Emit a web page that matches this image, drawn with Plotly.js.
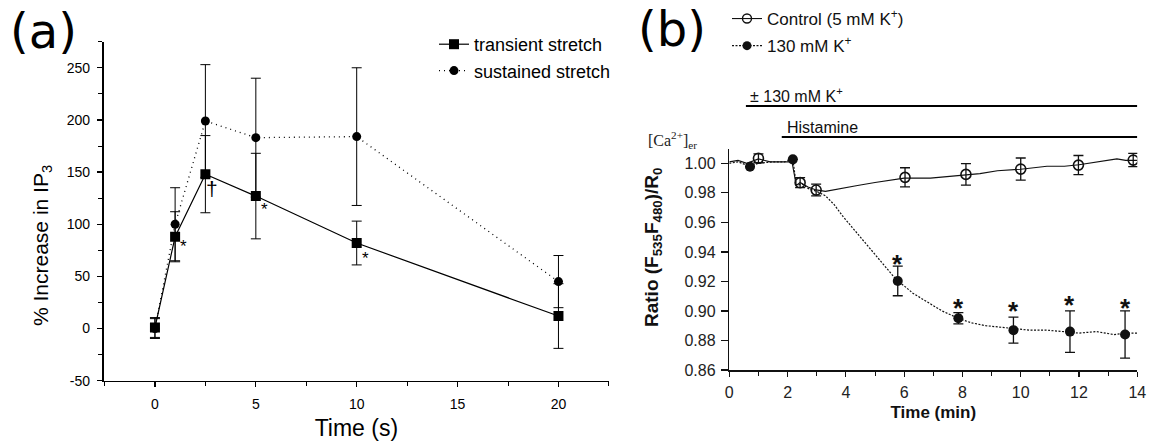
<!DOCTYPE html>
<html>
<head>
<meta charset="utf-8">
<script src="https://cdn.plot.ly/plotly-3.0.1.min.js"></script>
<style>html,body{margin:0;padding:0;background:#fff;}#chart{width:1155px;height:447px;}</style>
</head>
<body>
<div id="chart"></div>
<script>
// ---------- Panel (a): IP3 increase ----------
const timeA = [0, 1, 2.5, 5, 10, 20];
const transient = [1, 88, 148, 127, 82, 12];
const transientErr = [9.5, 24, 37, 41, 21, 31];
const sustained = [0, 100, 199, 183, 184, 45];
const sustainedErr = [9.5, 35, 54, 57, 66, 25];
const yTickValsA = [-50, 0, 50, 100, 150, 200, 250];
const yTickTextA = ['-50', '0', '50', '100', '150', '200', '250'];
const sigA_t = [1.4, 2.81, 5.45, 10.43];
const sigA_v = [78.5, 134.5, 114.6, 66.8];
const sigA_txt = ['*', '†', '*', '*'];

// ---------- Panel (b): ER Ca2+ ratio ----------
const ctrlT = [1.0, 2.43, 2.98, 6.03, 8.12, 10.0, 11.98, 13.86];
const ctrlV = [1.0034, 0.9869, 0.9819, 0.9905, 0.9925, 0.9961, 0.9988, 1.0022];
const ctrlE = [0.003, 0.0034, 0.004, 0.0065, 0.0073, 0.0075, 0.0065, 0.0045];
const kT = [0.71, 2.18, 5.78, 7.86, 9.75, 11.69, 13.58];
const kV = [0.9977, 1.0027, 0.9203, 0.895, 0.887, 0.886, 0.8841];
const kE = [0, 0, 0.010, 0.0038, 0.0088, 0.014, 0.016];
const ctrlLineT = [0, 0.3, 0.6, 1.0, 1.4, 1.8, 2.15, 2.3, 2.43, 2.7, 2.98, 3.3, 3.8, 4.4, 5.0, 5.6, 6.0, 6.9, 7.4, 8.1, 8.6, 9.2, 10.0, 10.9, 11.5, 12.0, 12.6, 13.3, 13.6, 14.0];
const ctrlLineV = [1.001, 1.002, 1.000, 1.003, 1.001, 1.001, 1.001, 0.985, 0.987, 0.984, 0.982, 0.981, 0.983, 0.985, 0.987, 0.989, 0.990, 0.990, 0.991, 0.992, 0.993, 0.995, 0.996, 0.998, 0.998, 0.999, 1.001, 1.003, 1.002, 1.002];
const kLineT = [0, 0.3, 0.71, 1.0, 1.5, 1.9, 2.18, 2.3, 2.5, 2.7, 3.0, 3.3, 3.6, 3.9, 4.2, 4.5, 4.8, 5.1, 5.4, 5.78, 6.0, 6.3, 6.8, 7.3, 7.86, 8.3, 8.8, 9.3, 9.75, 10.3, 10.9, 11.5, 12.0, 12.6, 13.2, 13.6, 14.0];
const kLineV = [1.000, 1.001, 0.998, 1.000, 1.001, 1.001, 1.003, 0.985, 0.986, 0.983, 0.981, 0.978, 0.972, 0.964, 0.957, 0.950, 0.943, 0.936, 0.929, 0.920, 0.917, 0.912, 0.906, 0.900, 0.895, 0.892, 0.890, 0.889, 0.888, 0.887, 0.887, 0.886, 0.885, 0.886, 0.884, 0.885, 0.885];
const sigB_t = [5.78, 7.86, 9.75, 11.69, 13.58];
const sigB_v = [0.9356, 0.906, 0.904, 0.908, 0.906];
const treatStart = [0.57, 1.80];
const treatEnd = [14, 14];
const treatLabels = ['± 130 mM K<sup>+</sup>', 'Histamine'];
const treatLabelX = [0.65, 1.91];

const W = 1155, H = 447;
const px = v => v / W;
const py = v => 1 - v / H;
const SANS = 'Liberation Sans, Arial, sans-serif';

const traces = [
  {x: timeA, y: transient, name: 'transient stretch', mode: 'lines+markers', xaxis: 'x', yaxis: 'y', legend: 'legend',
   line: {color: '#000', width: 1.2}, marker: {symbol: 'square', size: 10, color: '#000'},
   error_y: {type: 'data', array: transientErr, color: '#000', thickness: 1, width: 5}},
  {x: timeA, y: sustained, name: 'sustained stretch', mode: 'lines+markers', xaxis: 'x', yaxis: 'y', legend: 'legend',
   line: {color: '#000', width: 1.3, dash: '1px,4px'}, marker: {symbol: 'circle', size: 9, color: '#000'},
   error_y: {type: 'data', array: sustainedErr, color: '#000', thickness: 1, width: 5}},
  // panel b recordings
  {x: ctrlLineT, y: ctrlLineV, mode: 'lines', xaxis: 'x2', yaxis: 'y2', showlegend: false,
   line: {color: '#111', width: 1.1}},
  {x: kLineT, y: kLineV, mode: 'lines', xaxis: 'x2', yaxis: 'y2', showlegend: false,
   line: {color: '#111', width: 1.2, dash: '2px,1.5px'}},
  {x: ctrlT, y: ctrlV, mode: 'markers', xaxis: 'x2', yaxis: 'y2', showlegend: false,
   marker: {symbol: 'circle-open', size: 10, color: '#111', line: {width: 1.6}},
   error_y: {type: 'data', array: ctrlE, color: '#111', thickness: 1.3, width: 5}},
  {x: kT, y: kV, mode: 'markers', xaxis: 'x2', yaxis: 'y2', showlegend: false,
   marker: {symbol: 'circle', size: 10, color: '#111'},
   error_y: {type: 'data', array: kE, color: '#111', thickness: 1.3, width: 5}},
  // legend entries for panel b
  {x: [null], y: [null], name: 'Control (5 mM K<sup>+</sup>)', mode: 'lines+markers', xaxis: 'x2', yaxis: 'y2', legend: 'legend2', legendgroup: 'c',
   line: {color: '#111', width: 1.1}, marker: {symbol: 'circle-open', size: 9, color: '#111', line: {width: 1.4}}},
  {x: [null], y: [null], name: '130 mM K<sup>+</sup>', mode: 'lines+markers', xaxis: 'x2', yaxis: 'y2', legend: 'legend2', legendgroup: 'k',
   line: {color: '#111', width: 1.2, dash: '2px,1.5px'}, marker: {symbol: 'circle', size: 9, color: '#111'}}
];

const annotations = [];
sigA_t.forEach((t, i) => annotations.push({x: t, y: sigA_v[i], xref: 'x', yref: 'y', text: sigA_txt[i], showarrow: false,
  xanchor: 'center', yanchor: 'middle',
  font: {family: SANS, size: sigA_txt[i] === '†' ? 21 : 17, color: '#000'}}));
sigB_t.forEach((t, i) => annotations.push({x: t, y: sigB_v[i], xref: 'x2', yref: 'y2', text: '*', showarrow: false, yshift: -6,
  xanchor: 'center', yanchor: 'middle',
  font: {family: SANS, size: 26, color: '#111', weight: 'bold'}}));
treatLabels.forEach((s, i) => annotations.push({x: treatLabelX[i], y: py(i === 0 ? 95 : 127), xref: 'x2', yref: 'paper', text: s,
  showarrow: false, xanchor: 'left', yanchor: 'middle', font: {family: SANS, size: 16, color: '#111'}}));
annotations.push(
  {x: px(43), y: py(31), xref: 'paper', yref: 'paper', xanchor: 'center', yanchor: 'middle', text: '(a)', showarrow: false,
   font: {family: 'DejaVu Sans, sans-serif', size: 48, color: '#000'}},
  {x: px(672), y: py(29), xref: 'paper', yref: 'paper', xanchor: 'center', yanchor: 'middle', text: '(b)', showarrow: false,
   font: {family: 'DejaVu Sans, sans-serif', size: 48, color: '#000'}},
  {x: px(42), y: py(246), xref: 'paper', yref: 'paper', xanchor: 'center', yanchor: 'middle', text: '% Increase in IP<sub>3</sub>', textangle: -90, showarrow: false,
   font: {family: SANS, size: 21, color: '#000'}},
  {x: px(653), y: py(248), xref: 'paper', yref: 'paper', xanchor: 'center', yanchor: 'middle', text: 'Ratio (F<sub>535</sub>F<sub>480</sub>)/R<sub>0</sub>', textangle: -90, showarrow: false,
   font: {family: SANS, size: 19, color: '#111', weight: 'bold'}},
  {x: px(646), y: py(140), xref: 'paper', yref: 'paper', xanchor: 'left', yanchor: 'middle', text: '[Ca<sup>2+</sup>]<sub>er</sub>', showarrow: false,
   font: {family: 'Liberation Serif, DejaVu Serif, serif', size: 16, color: '#222'}}
);

const shapes = treatStart.map((s, i) => ({type: 'line', xref: 'x2', yref: 'paper', x0: s, x1: treatEnd[i],
  y0: py(i === 0 ? 106 : 137), y1: py(i === 0 ? 106 : 137), line: {color: '#000', width: 2}}));

const layout = {
  width: W, height: H,
  margin: {l: 0, r: 0, t: 0, b: 0},
  paper_bgcolor: '#fff', plot_bgcolor: 'rgba(0,0,0,0)',
  font: {family: SANS, color: '#000'},
  showlegend: true,
  xaxis: {domain: [px(103.5), px(609.3)], range: [-2.55, 22.52], anchor: 'y',
    tick0: 0, dtick: 5, ticks: 'outside', ticklen: 5, tickwidth: 1.2, tickcolor: '#000',
    minor: {dtick: 2.5, tick0: 0, ticks: 'outside', ticklen: 4, tickwidth: 1, tickcolor: '#000'},
    showline: true, linecolor: '#000', linewidth: 1.6, showgrid: false, zeroline: false,
    tickfont: {family: SANS, size: 14, color: '#000'}, ticklabelstandoff: 5,
    title: {text: 'Time (s)', font: {family: SANS, size: 23, color: '#000'}, standoff: 9}},
  yaxis: {domain: [py(380.7), py(41.7)], range: [-50, 275], anchor: 'x',
    tickmode: 'array', tickvals: yTickValsA, ticktext: yTickTextA, ticks: 'outside', ticklen: 5, tickwidth: 1.2, tickcolor: '#000',
    minor: {dtick: 25, tick0: 0, ticks: 'outside', ticklen: 4, tickwidth: 1, tickcolor: '#000'},
    showline: true, linecolor: '#000', linewidth: 1.6, showgrid: false, zeroline: false,
    tickfont: {family: SANS, size: 14, color: '#000'}, ticklabelstandoff: 4},
  xaxis2: {domain: [px(729.3), px(1137.3)], range: [0, 14], anchor: 'y2',
    tick0: 0, dtick: 2, ticks: 'outside', ticklen: 5, tickwidth: 1.2, tickcolor: '#111',
    minor: {dtick: 1, tick0: 0, ticks: 'outside', ticklen: 4, tickwidth: 1, tickcolor: '#111'},
    showline: true, linecolor: '#111', linewidth: 1.5, showgrid: false, zeroline: false,
    tickfont: {family: SANS, size: 16, color: '#222'}, ticklabelstandoff: 2,
    title: {text: 'Time (min)', font: {family: SANS, size: 17, color: '#111', weight: 'bold'}, standoff: 6}},
  yaxis2: {domain: [py(370), py(149.3)], range: [0.86, 1.0095], anchor: 'x2',
    tick0: 0.86, dtick: 0.02, tickformat: '.2f', ticks: 'outside', ticklen: 7, tickwidth: 1.2, tickcolor: '#111',
    showline: true, linecolor: '#111', linewidth: 1.5, showgrid: false, zeroline: false,
    tickfont: {family: SANS, size: 16, color: '#222'}, ticklabelstandoff: 2},
  legend: {x: px(434), y: py(26), xanchor: 'left', yanchor: 'top', bgcolor: 'rgba(0,0,0,0)',
    font: {family: SANS, size: 18, color: '#000'}, itemwidth: 30, tracegroupgap: 0},
  legend2: {x: px(727), y: py(1), xanchor: 'left', yanchor: 'top', bgcolor: 'rgba(0,0,0,0)',
    font: {family: SANS, size: 17, color: '#111'}, itemwidth: 30, tracegroupgap: 2},
  annotations: annotations,
  shapes: shapes
};

Plotly.newPlot('chart', traces, layout, {displayModeBar: false, staticPlot: true});
</script>
</body>
</html>
